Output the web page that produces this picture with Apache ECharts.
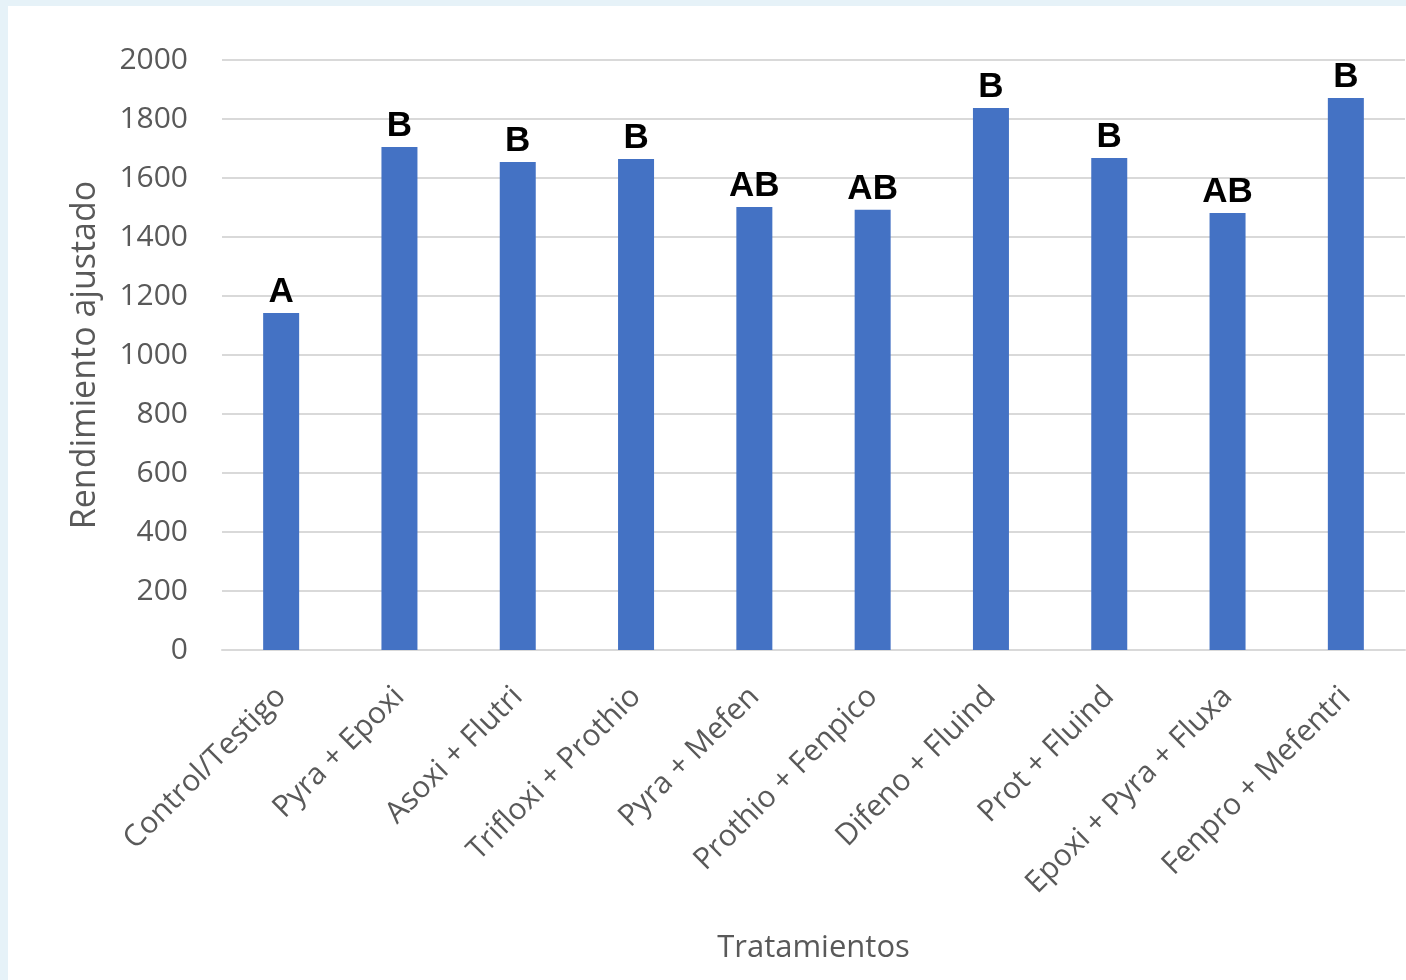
<!DOCTYPE html>
<html>
<head>
<meta charset="utf-8">
<title>Rendimiento ajustado por tratamiento</title>
<script src="https://cdn.jsdelivr.net/npm/echarts@6/dist/echarts.min.js"></script>
<style>
  html, body { margin: 0; padding: 0; background: #e6f2f8; }
  #chart { position: absolute; left: 8px; top: 6px; width: 1398px; height: 974px; background: #ffffff; }
</style>
</head>
<body>
<div id="chart"></div>
<script>
// Treatments (x categories)
const categories = [
  'Control/Testigo', 'Pyra + Epoxi', 'Asoxi + Flutri', 'Trifloxi + Prothio', 'Pyra + Mefen',
  'Prothio + Fenpico', 'Difeno + Fluind', 'Prot + Fluind', 'Epoxi + Pyra + Fluxa', 'Fenpro + Mefentri'
];
// Adjusted yield per treatment
const yieldValues = [1142, 1705, 1654, 1664, 1502, 1492, 1837, 1668, 1481, 1871];
// Significance groups shown above each bar
const groupLetters = ['A', 'B', 'B', 'B', 'AB', 'AB', 'B', 'B', 'AB', 'B'];
// Y axis range
const yMin = 0;
const yMax = 2000;
const yStep = 200;

const axisFont = '"Open Sans", "Noto Sans", sans-serif';
const gray = '#595959';

const chart = echarts.init(document.getElementById('chart'), null, { renderer: 'canvas' });
chart.setOption({
  animation: false,
  grid: { left: 214, top: 54, width: 1183, height: 590 },
  xAxis: {
    type: 'category',
    data: categories,
    name: 'Tratamientos',
    nameLocation: 'middle',
    nameGap: 283,
    nameTextStyle: { color: gray, fontSize: 31, fontFamily: axisFont },
    axisLine: { lineStyle: { color: '#d9d9d9', width: 2 } },
    axisTick: { show: false },
    axisLabel: { interval: 0, rotate: 45, margin: 42, color: gray, fontSize: 30, fontFamily: axisFont }
  },
  yAxis: {
    type: 'value',
    min: yMin,
    max: yMax,
    interval: yStep,
    name: 'Rendimiento ajustado',
    nameLocation: 'middle',
    nameGap: 120,
    nameTextStyle: { color: gray, fontSize: 34, fontFamily: axisFont },
    axisLine: { show: false },
    axisTick: { show: false },
    axisLabel: { margin: 34, color: gray, fontSize: 30, fontFamily: axisFont, formatter: v => String(v) },
    splitLine: { lineStyle: { color: '#d9d9d9', width: 2 } }
  },
  series: [{
    type: 'bar',
    data: yieldValues,
    barWidth: 36,
    itemStyle: { color: '#4472c4' },
    label: {
      show: true,
      position: 'top',
      distance: 3,
      color: '#000000',
      fontSize: 35,
      fontWeight: 'bold',
      fontFamily: '"Liberation Sans", Arial, sans-serif',
      formatter: p => groupLetters[p.dataIndex]
    }
  }]
});
</script>
</body>
</html>
